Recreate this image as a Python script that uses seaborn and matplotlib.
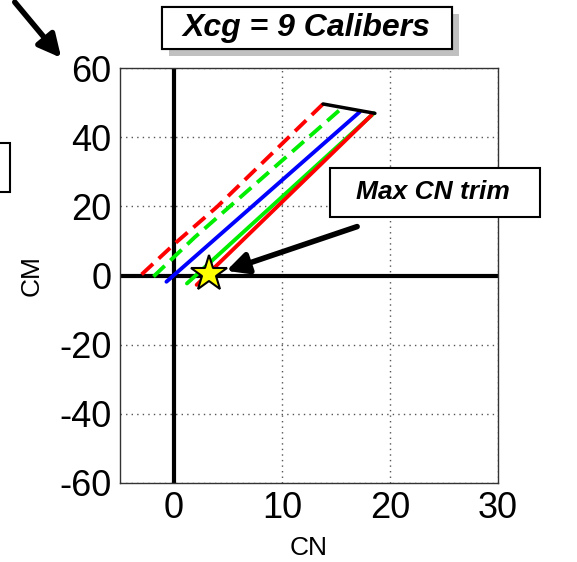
import numpy as np
import pandas as pd
import seaborn as sns
import matplotlib.pyplot as plt
import matplotlib.patheffects as pe
from matplotlib.patches import FancyArrowPatch, Rectangle

# --- data (CN, CM) ---
red_dash_cn = [-3.0, 0.1, 4.0, 13.8]
red_dash_cm = [0.3, 9.3, 19.9, 49.6]
green_dash_cn = [-1.9, 1.9, 15.5]
green_dash_cm = [-0.3, 11.0, 48.3]
blue_cn = [-0.7, 17.2]
blue_cm = [-1.8, 47.3]
green_cn = [1.2, 18.5]
green_cm = [-2.3, 46.9]
red_cn = [2.1, 18.3]
red_cm = [-2.7, 46.4]
cap_cn = [13.8, 18.6]
cap_cm = [49.6, 46.9]
trim_cn = [3.2]
trim_cm = [0.5]

sns.set_style("white")
plt.rcParams['font.family'] = ['Liberation Sans', 'DejaVu Sans']
plt.rcParams['axes.unicode_minus'] = False

W, H = 577, 562
fig = plt.figure(figsize=(W/100, H/100), dpi=100)
ax = fig.add_axes([120/W, 1-483/H, (498-120)/W, (483-68)/H])

ax.axhline(0, color='black', lw=3, zorder=1)
ax.axvline(0, color='black', lw=3, zorder=1)

series = [
    (red_dash_cn, red_dash_cm, 'red', (4, 2)),
    (green_dash_cn, green_dash_cm, '#00ee00', (4, 2)),
    (green_cn, green_cm, '#00ee00', None),
    (red_cn, red_cm, 'red', None),
    (blue_cn, blue_cm, 'blue', None),
]
for cn, cm, col, dash in series:
    l = sns.lineplot(x=cn, y=cm, color=col, lw=2.8, sort=False, ax=ax, zorder=3)
    if dash is not None:
        l.lines[-1].set_dashes(dash)

sns.lineplot(x=cap_cn, y=cap_cm, color='black', lw=2.5, sort=False, ax=ax, zorder=4)
ax.plot(trim_cn, trim_cm, marker='*', ms=27, mfc='yellow', mec='black', mew=1.5,
        ls='none', zorder=6)

ax.set_xlim(-5, 30)
ax.set_ylim(-60, 60)
ax.set_xticks([0, 10, 20, 30])
ax.set_yticks([-60, -40, -20, 0, 20, 40, 60])
ax.grid(True, ls=(0, (1, 3)), color='#555555', lw=1)
ax.tick_params(direction='in', length=4, labelsize=26, pad=6, colors='black')
for s in ax.spines.values():
    s.set_color('#333333')
    s.set_linewidth(1)
ax.set_xlabel('CN', fontsize=19, labelpad=7, color='black')
ax.set_ylabel('CM', fontsize=19, labelpad=11, color='black')

# arrow to trim point
ax.annotate('', xy=(4.6, 1.1), xytext=(17.2, 14.4),
            arrowprops=dict(arrowstyle='-|>', color='black', lw=4, mutation_scale=32),
            zorder=7)

# title box with shadow
box1 = Rectangle((162/W, 1-49/H), 290/W, 42/H, transform=fig.transFigure,
                 fc='white', ec='black', lw=1.5)
box1.set_path_effects([pe.withSimplePatchShadow(offset=(5, -5), alpha=0.35), pe.Normal()])
fig.patches.append(box1)
fig.text(306/W, 1-28/H, 'Xcg = 9 Calibers', ha='center', va='center',
         fontsize=23, fontweight='bold', fontstyle='italic', color='black')

# Max CN trim box
box2 = Rectangle((330/W, 1-217/H), 210/W, 49/H, transform=fig.transFigure,
                 fc='white', ec='black', lw=1.5, zorder=5)
fig.patches.append(box2)
fig.text(433/W, 1-192/H, 'Max CN trim', ha='center', va='center',
         fontsize=19, fontweight='bold', fontstyle='italic', color='black', zorder=6)

# partial box at left edge and arrow from top-left
fig.patches.append(Rectangle((-20/W, 1-192/H), 30/W, 49/H, transform=fig.transFigure,
                             fill=False, ec='black', lw=1.5))
fig.add_artist(FancyArrowPatch((13/W, 1.0), (63/W, 1-60/H),
               transform=fig.transFigure, arrowstyle='-|>', mutation_scale=34, lw=4, color='black'))

fig.savefig('out.png', dpi=100)
